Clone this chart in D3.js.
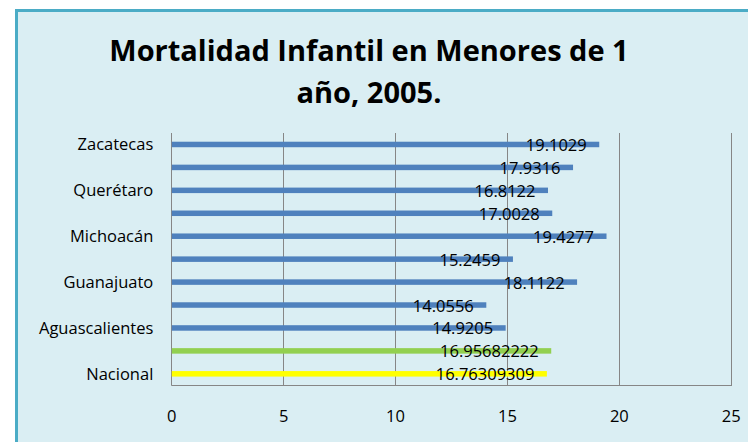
<!DOCTYPE html>
<html>
<head>
<meta charset="utf-8">
<script src="https://cdn.jsdelivr.net/npm/d3@7"></script>
<style>
  html, body { margin: 0; padding: 0; background: #ffffff; }
  svg { display: block; }
  text { font-family: "Open Sans", "Liberation Sans", sans-serif; }
</style>
</head>
<body>
<svg id="chart" width="748" height="442"></svg>
<script>
// Categories listed bottom-to-top as drawn
const categories = ["Nacional", "Región Centro Occidente", "Aguascalientes", "Colima", "Guanajuato", "Jalisco", "Michoacán", "Nayarit", "Querétaro", "San Luis Potosí", "Zacatecas"];
const values = [16.76309309, 16.95682222, 14.9205, 14.0556, 18.1122, 15.2459, 19.4277, 17.0028, 16.8122, 17.9316, 19.1029];
const barColors = ["#FFFF00", "#92D050", "#4F81BD", "#4F81BD", "#4F81BD", "#4F81BD", "#4F81BD", "#4F81BD", "#4F81BD", "#4F81BD", "#4F81BD"];
const shownLabels = ["Nacional", "Aguascalientes", "Guanajuato", "Michoacán", "Querétaro", "Zacatecas"];
const xTicks = [0, 5, 10, 15, 20, 25];
const titleLines = ["Mortalidad Infantil en Menores de 1", "año, 2005."];

const svg = d3.select("#chart");

// Chart frame
svg.append("rect")
  .attr("x", 16.5).attr("y", 10.5)
  .attr("width", 760).attr("height", 460)
  .attr("fill", "#DAEEF3")
  .attr("stroke", "#4BACC6")
  .attr("stroke-width", 3);

// Title
const title = svg.append("text")
  .attr("text-anchor", "middle")
  .attr("font-weight", "bold")
  .attr("font-size", 29)
  .attr("fill", "#000");
title.selectAll("tspan").data(titleLines).join("tspan")
  .attr("x", 369)
  .attr("y", (d, i) => 61 + i * 42)
  .text(d => d);

// Scales
const plot = { left: 171.3, right: 730.7, top: 133, bottom: 385.3 };
const x = d3.scaleLinear().domain([0, 25]).range([plot.left, plot.right]);
const y = d3.scaleBand().domain(categories).range([plot.bottom, plot.top])
  .paddingInner(0.76).paddingOuter(0.38);

// Gridlines
svg.append("g").selectAll("line").data(xTicks.slice(1)).join("line")
  .attr("x1", d => Math.round(x(d)) + 0.5).attr("x2", d => Math.round(x(d)) + 0.5)
  .attr("y1", plot.top).attr("y2", plot.bottom)
  .attr("stroke", "#868686").attr("stroke-width", 1);

// Axis lines
svg.append("line")
  .attr("x1", Math.round(plot.left) + 0.5).attr("x2", Math.round(plot.left) + 0.5)
  .attr("y1", plot.top).attr("y2", plot.bottom)
  .attr("stroke", "#868686");
svg.append("line")
  .attr("x1", plot.left).attr("x2", Math.round(plot.right) + 1)
  .attr("y1", Math.round(plot.bottom) + 0.5).attr("y2", Math.round(plot.bottom) + 0.5)
  .attr("stroke", "#868686");

// Bars
svg.append("g").selectAll("rect").data(categories).join("rect")
  .attr("x", x(0) + 0.5)
  .attr("y", d => y(d))
  .attr("width", (d, i) => x(values[i]) - x(0))
  .attr("height", y.bandwidth())
  .attr("fill", (d, i) => barColors[i]);

// Data labels
svg.append("g").selectAll("text").data(categories).join("text")
  .attr("x", (d, i) => x(values[i]) - 12)
  .attr("y", d => y(d) + y.bandwidth() / 2 + 6.5)
  .attr("text-anchor", "end")
  .attr("font-size", 16.5)
  .attr("fill", "#000")
  .text((d, i) => values[i]);

// Y axis
const yAxis = d3.axisLeft(y).tickValues(shownLabels).tickSize(0).tickPadding(18);
const gy = svg.append("g").attr("transform", `translate(${plot.left},0)`).call(yAxis);
gy.select(".domain").remove();
gy.selectAll("text")
  .attr("font-family", "'Open Sans', sans-serif")
  .attr("font-size", 16.5)
  .attr("fill", "#000")
  .attr("dy", "0.36em");

// X axis
const xAxis = d3.axisBottom(x).tickValues(xTicks).tickSize(0).tickPadding(0);
const gx = svg.append("g").attr("transform", `translate(0,${plot.bottom})`).call(xAxis);
gx.select(".domain").remove();
gx.selectAll("text")
  .attr("font-family", "'Open Sans', sans-serif")
  .attr("font-size", 16.5)
  .attr("fill", "#000")
  .attr("y", 36.5)
  .attr("dy", 0);
</script>
</body>
</html>
